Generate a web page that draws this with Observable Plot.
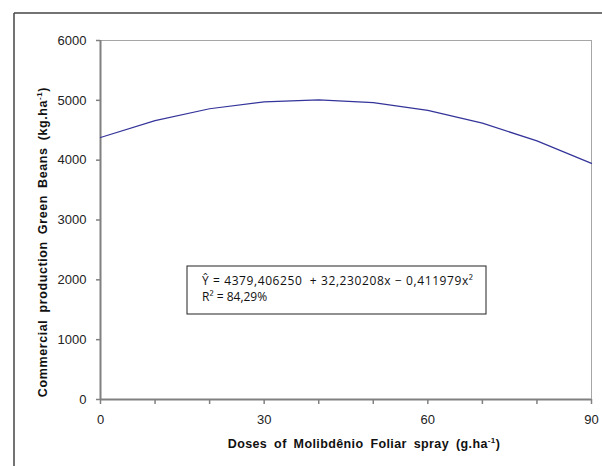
<!DOCTYPE html>
<html>
<head>
<meta charset="utf-8">
<script src="https://cdn.jsdelivr.net/npm/d3@7"></script>
<script src="https://cdn.jsdelivr.net/npm/@observablehq/plot@0.6"></script>
<style>
  html, body { margin: 0; padding: 0; background: #fff; }
  #chart { width: 602px; height: 466px; }
</style>
</head>
<body>
<div id="chart"></div>
<script>
// Data
const doses = [0, 10, 20, 30, 40, 50, 60, 70, 80, 90];
const production = [4379, 4660, 4859, 4975, 5009, 4961, 4831, 4618, 4322, 3946];
const xTicks = [0, 10, 20, 30, 40, 50, 60, 70, 80, 90];
const xLabels = [0, 30, 60, 90];
const yTicks = [0, 1000, 2000, 3000, 4000, 5000, 6000];
const equationLine1 = "Ŷ = 4379,406250  + 32,230208x − 0,411979x²";
const equationLine2 = "R² = 84,29%";

const data = doses.map((d, i) => ({dose: d, value: production[i]}));

const plot = Plot.plot({
  width: 602,
  height: 466,
  marginLeft: 100,
  marginRight: 11,
  marginTop: 40,
  marginBottom: 67,
  style: {fontFamily: "Liberation Sans, Arial, sans-serif", fontSize: "13px", color: "#222", background: "#fff"},
  x: {domain: [0, 90], label: null},
  y: {domain: [0, 6000], label: null},
  marks: [
    Plot.ruleY([6000], {stroke: "#a6a6a6", strokeWidth: 1}),
    Plot.ruleX([90], {stroke: "#a6a6a6", strokeWidth: 1}),
    Plot.axisX({ticks: xTicks, tickSize: 5, tickFormat: () => "", stroke: "#808080", strokeWidth: 1.5}),
    Plot.axisX({ticks: xLabels, tickSize: 0, tickPadding: 15, tickFormat: d => String(d), fill: "#222", fontSize: 13}),
    Plot.axisY({ticks: yTicks, tickSize: 4, tickPadding: 10, tickFormat: d => String(d), stroke: "#808080", strokeWidth: 1.5, fill: "#222", fontSize: 13}),
    Plot.ruleX([0], {stroke: "#808080", strokeWidth: 2}),
    Plot.ruleY([0], {stroke: "#808080", strokeWidth: 2}),
    Plot.line(data, {x: "dose", y: "value", stroke: "#34349a", strokeWidth: 1.2})
  ]
});
document.getElementById("chart").appendChild(plot);

const svg = d3.select(plot);
// outer frame (top and left edges visible)
svg.append("line").attr("x1", 14).attr("x2", 602).attr("y1", 13).attr("y2", 13)
  .attr("stroke", "#444").attr("stroke-width", 1.5);
svg.append("line").attr("x1", 14).attr("x2", 14).attr("y1", 13).attr("y2", 466)
  .attr("stroke", "#444").attr("stroke-width", 1.5);

// axis titles
const xt = svg.append("text").attr("x", 364).attr("y", 448)
  .attr("text-anchor", "middle").attr("font-weight", "bold").attr("font-size", 12.5)
  .attr("font-family", "Liberation Sans, Arial, sans-serif").attr("fill", "#111")
  .attr("letter-spacing", 0.4).attr("word-spacing", 3);
xt.append("tspan").text("Doses of Molibdênio Foliar spray (g.ha");
xt.append("tspan").attr("font-size", 8).attr("dy", -5).text("-1");
xt.append("tspan").attr("dy", 5).text(")");

const yt = svg.append("text").attr("transform", "translate(47,242) rotate(-90)")
  .attr("text-anchor", "middle").attr("font-weight", "bold").attr("font-size", 12.5)
  .attr("font-family", "Liberation Sans, Arial, sans-serif").attr("fill", "#111")
  .attr("letter-spacing", 0.6).attr("word-spacing", 3);
yt.append("tspan").text("Commercial production Green Beans (kg.ha");
yt.append("tspan").attr("font-size", 8).attr("dy", -5).text("-1");
yt.append("tspan").attr("dy", 5).text(")");

// equation box
svg.append("rect").attr("x", 187).attr("y", 266).attr("width", 299).attr("height", 48)
  .attr("fill", "#fff").attr("stroke", "#222").attr("stroke-width", 1);
svg.append("text").attr("x", 202).attr("y", 285).attr("font-size", 12)
  .attr("text-anchor", "start").attr("textLength", 271).attr("lengthAdjust", "spacing")
  .attr("font-family", "Open Sans, Liberation Sans, sans-serif").attr("fill", "#111")
  .text(equationLine1);
svg.append("text").attr("x", 202).attr("y", 301).attr("font-size", 12)
  .attr("text-anchor", "start")
  .attr("font-family", "Open Sans, Liberation Sans, sans-serif").attr("fill", "#111")
  .text(equationLine2);
</script>
</body>
</html>
